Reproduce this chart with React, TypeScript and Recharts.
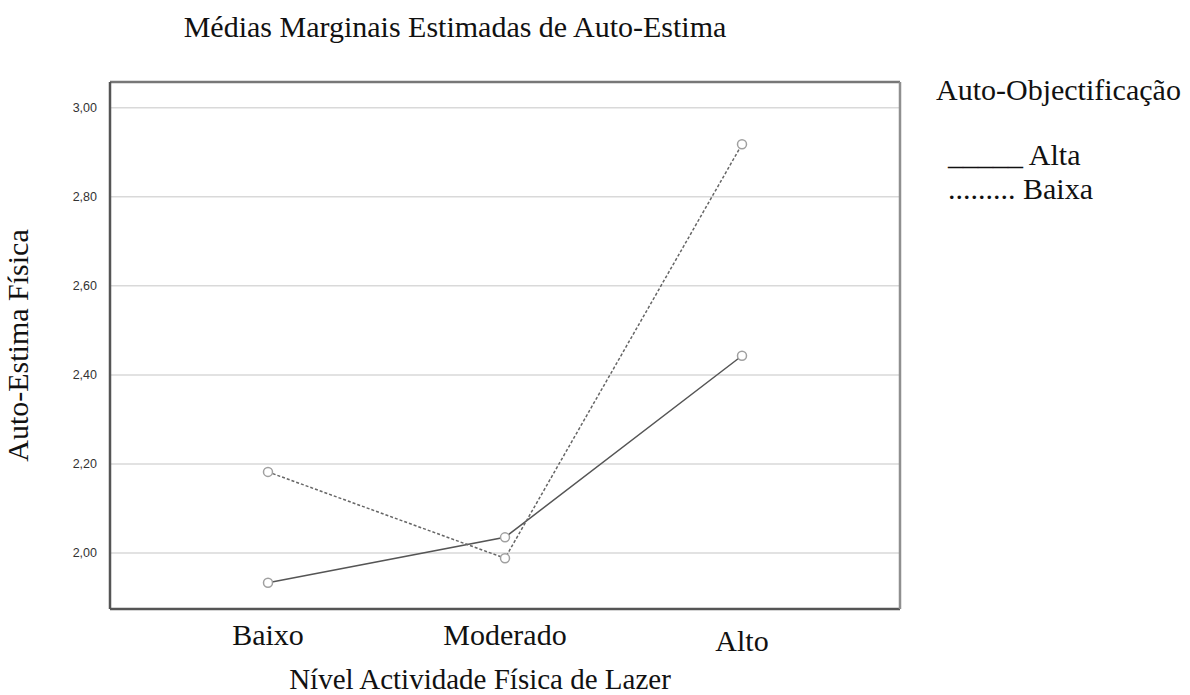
import { LineChart, Line, XAxis, YAxis, CartesianGrid, Label, ReferenceLine } from "recharts"

const niveis = ["Baixo", "Moderado", "Alto"]
const alta = [1.933, 2.035, 2.443]
const baixa = [2.182, 1.988, 2.918]
const yTicks = [2.0, 2.2, 2.4, 2.6, 2.8, 3.0]
const yDomain = [1.874, 3.058]

const data = niveis.map((n, i) => ({ nivel: n, alta: alta[i], baixa: baixa[i] }))

const serif = "'Liberation Serif', 'Times New Roman', serif"

const fmt = (v: number) => v.toFixed(2).replace(".", ",")

// SPSS output drops "Alto" a few px lower than the other labels
const CatTick = ({ x, y, payload }: any) => (
  <text x={x} y={y + (payload.value === "Alto" ? 34 : 28)} textAnchor="middle" fontFamily={serif} fontSize={30} fill="#111">
    {payload.value}
  </text>
)

export default function App() {
  return (
    <div style={{ position: "absolute", left: 0, top: 0, width: 1190, height: 695, background: "#fff", fontFamily: serif, color: "#111" }}>
      <div style={{ position: "absolute", left: 0, width: 910, top: 9, textAlign: "center", fontSize: 30, lineHeight: "36px" }}>
        Médias Marginais Estimadas de Auto-Estima
      </div>
      <div style={{ position: "absolute", left: 936, top: 72, fontSize: 30, lineHeight: "36px" }}>
        Auto-Objectificação
      </div>
      <div style={{ position: "absolute", left: 948, top: 137, fontSize: 30, lineHeight: "36px", whiteSpace: "pre" }}>
        <div>_____ Alta</div>
        <div style={{ marginTop: -2 }}>......... Baixa</div>
      </div>
      <LineChart width={1190} height={695} data={data} margin={{ top: 82, right: 289, bottom: 4, left: 50 }}>
        <CartesianGrid vertical={false} stroke="#d9d9d9" strokeWidth={1.5} />
        <ReferenceLine y={yDomain[1]} stroke="#777" strokeWidth={2.5} />
        <XAxis
          dataKey="nivel"
          padding={{ left: 158, right: 158 }}
          axisLine={{ stroke: "#555", strokeWidth: 2.5 }}
          tickLine={false}
          tick={<CatTick />}
          height={82}
        >
          <Label value="Nível Actividade Física de Lazer" position="insideBottom" offset={2} dx={-25} style={{ fontFamily: serif, fontSize: 29, fill: "#111" }} />
        </XAxis>
        <YAxis
          domain={yDomain}
          ticks={yTicks}
          tickFormatter={fmt}
          allowDataOverflow
          axisLine={{ stroke: "#555", strokeWidth: 2.5 }}
          tickLine={false}
          tick={{ fontFamily: "'Liberation Sans', Arial, sans-serif", fontSize: 12.5, fill: "#333" }}
          tickMargin={7}
          width={60}
        >
          <Label value="Auto-Estima Física" angle={-90} position="insideLeft" offset={-33} style={{ fontFamily: serif, fontSize: 30, fill: "#111", textAnchor: "middle" }} />
        </YAxis>
        <YAxis
          yAxisId="right"
          orientation="right"
          domain={yDomain}
          allowDataOverflow
          tick={false}
          tickLine={false}
          axisLine={{ stroke: "#8f8f8f", strokeWidth: 2.5 }}
          width={1}
        />
        <Line
          dataKey="alta"
          stroke="#555"
          strokeWidth={1.5}
          dot={{ r: 4.5, stroke: "#a0a0a0", strokeWidth: 1.5, fill: "#fff" }}
          isAnimationActive={false}
        />
        <Line
          dataKey="baixa"
          stroke="#666"
          strokeWidth={1.5}
          strokeDasharray="3 2"
          dot={{ r: 4.5, stroke: "#a0a0a0", strokeWidth: 1.5, fill: "#fff", strokeDasharray: "" }}
          isAnimationActive={false}
        />
      </LineChart>
    </div>
  )
}
